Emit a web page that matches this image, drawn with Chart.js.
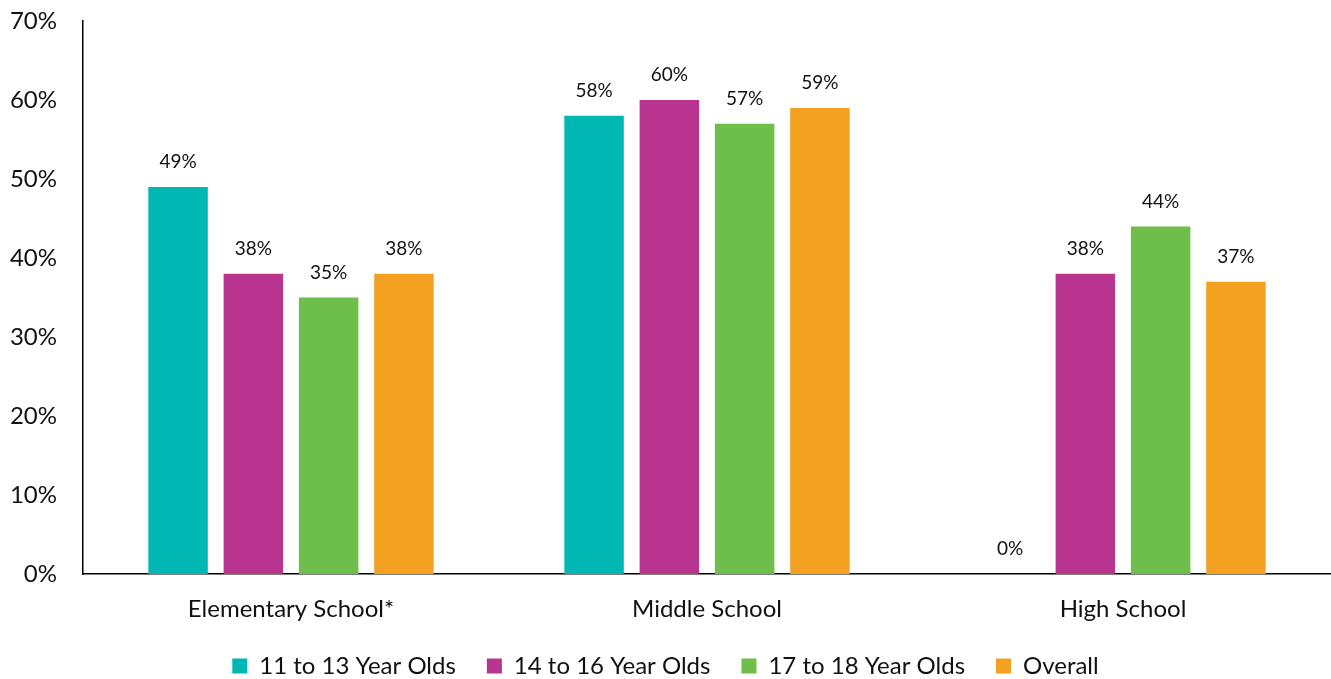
<!DOCTYPE html>
<html>
<head>
<meta charset="utf-8">
<script src="https://cdn.jsdelivr.net/npm/chart.js@4.4.1/dist/chart.umd.min.js"></script>
<style>
  html, body { margin: 0; padding: 0; background: #fff; }
  #wrap { width: 1331px; height: 679px; }
</style>
</head>
<body>
<div id="wrap"><canvas id="schoolChart"></canvas></div>
<script>
const categories = ['Elementary School*', 'Middle School', 'High School'];
const seriesNames = ['11 to 13 Year Olds', '14 to 16 Year Olds', '17 to 18 Year Olds', 'Overall'];
const ages11to13 = [49, 58, 0];
const ages14to16 = [38, 60, 38];
const ages17to18 = [35, 57, 44];
const overall = [38, 59, 37];
const yTicks = [0, 10, 20, 30, 40, 50, 60, 70];

const colors = ['#00b7b4', '#b8348f', '#6dbe4a', '#f4a122'];
const FONT = 'Lato, "Open Sans", sans-serif';
const LEGEND_H = 56;

const datasets = [ages11to13, ages14to16, ages17to18, overall].map((vals, i) => ({
    label: seriesNames[i],
    data: vals,
    backgroundColor: colors[i],
    borderWidth: 0,
    categoryPercentage: 0.724,
    barPercentage: 0.79
}));

// value labels above each bar
const barLabels = {
    id: 'barLabels',
    afterDatasetsDraw(chart) {
        const ctx = chart.ctx;
        ctx.save();
        ctx.font = '19px ' + FONT;
        ctx.fillStyle = '#111';
        ctx.textAlign = 'center';
        ctx.textBaseline = 'middle';
        chart.data.datasets.forEach((ds, i) => {
            chart.getDatasetMeta(i).data.forEach((bar, j) => {
                ctx.fillText(ds.data[j] + '%', bar.x, bar.y - 25);
            });
        });
        ctx.restore();
    }
};

new Chart(document.getElementById('schoolChart'), {
    type: 'bar',
    data: { labels: categories, datasets },
    plugins: [barLabels],
    options: {
        responsive: true,
        maintainAspectRatio: false,
        animation: false,
        layout: { autoPadding: false, padding: { top: 21, right: 0, bottom: 0, left: 0 } },
        scales: {
            x: {
                grid: { display: false, drawTicks: false },
                border: { display: true, color: '#000', width: 1.5 },
                ticks: { color: '#111', font: { family: FONT, size: 24, lineHeight: 1.2 }, padding: 21 },
                afterFit: s => { s.height = 679 - 574 - LEGEND_H; }
            },
            y: {
                min: 0,
                max: 70,
                afterBuildTicks: s => { s.ticks = yTicks.map(v => ({ value: v })); },
                grid: { display: false, drawTicks: false },
                border: { display: true, color: '#000', width: 1.5 },
                ticks: { color: '#111', font: { family: FONT, size: 24 }, padding: 26, callback: v => v + '%' },
                // fixed axis width; tick labels may overhang the plot top
                afterFit: s => { s.width = 83; s.paddingTop = 0; s.paddingBottom = 0; }
            }
        },
        plugins: {
            legend: {
                position: 'bottom',
                maxHeight: LEGEND_H,
                labels: {
                    color: '#111',
                    font: { family: FONT, size: 24 },
                    boxWidth: 15,
                    boxHeight: 15,
                    padding: 31
                }
            },
            tooltip: { enabled: false }
        }
    }
});
</script>
</body>
</html>
